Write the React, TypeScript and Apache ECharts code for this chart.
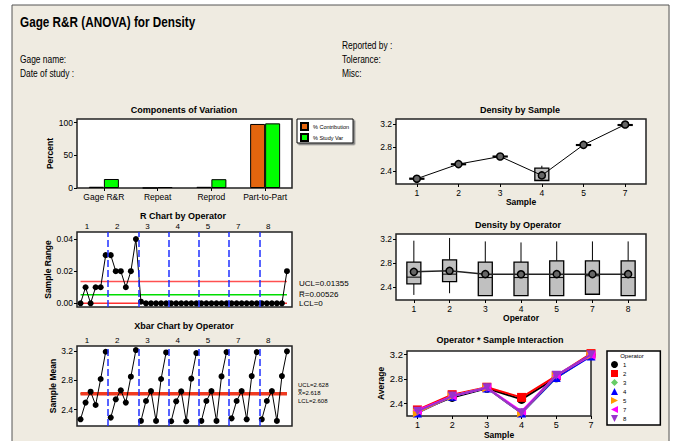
import React, { useEffect, useRef } from 'react';
import * as echarts from 'echarts';

// ---------- data ----------
const components = ['Gage R&R', 'Repeat', 'Reprod', 'Part-to-Part'];
const pctContribution = [1.9, 0.1, 1.8, 98.1];
const pctStudyVar = [13.8, 1.5, 13.5, 99.0];

const operators = ['1', '2', '3', '4', '5', '7', '8'];
const samples = ['1', '2', '3', '4', '5', '7'];

const rangeValues = [
  0, 0.01, 0, 0.01, 0.01, 0.03,
  0.03, 0.02, 0.02, 0.01, 0.02, 0.04,
  0.001, 0, 0, 0, 0, 0,
  0, 0, 0, 0, 0, 0,
  0, 0, 0, 0, 0, 0,
  0, 0, 0, 0, 0, 0,
  0, 0, 0, 0, 0, 0.02,
];
const rUCL = 0.01355;
const rBar = 0.00526;
const rLCL = 0;

const meansOp1 = [2.267, 2.496, 2.646, 2.463, 2.82, 3.194];
const meansOp2 = [2.29, 2.541, 2.664, 2.496, 2.852, 3.217];
const meansOp3 = [2.244, 2.518, 2.655, 2.244, 2.82, 3.185];
const meansOp4 = [2.24, 2.514, 2.65, 2.24, 2.825, 3.176];
const meansOp5 = [2.244, 2.518, 2.655, 2.244, 2.856, 3.19];
const meansOp7 = [2.28, 2.518, 2.655, 2.267, 2.86, 3.19];
const meansOp8 = [2.267, 2.518, 2.655, 2.244, 2.86, 3.2];
const meansByOperator = [meansOp1, meansOp2, meansOp3, meansOp4, meansOp5, meansOp7, meansOp8];
const xUCL = 2.628;
const xBar = 2.618;
const xLCL = 2.608;

// [min, Q1, median, Q3, max]
const sampleBoxes = [
  [2.25, 2.262, 2.27, 2.278, 2.3],
  [2.49, 2.508, 2.515, 2.522, 2.55],
  [2.63, 2.64, 2.647, 2.654, 2.67],
  [2.235, 2.236, 2.245, 2.45, 2.49],
  [2.82, 2.835, 2.842, 2.849, 2.86],
  [3.16, 3.175, 3.182, 3.189, 3.22],
];
const sampleMeans = [2.27, 2.518, 2.647, 2.326, 2.845, 3.19];

const operatorBoxes = [
  [2.272, 2.455, 2.567, 2.817, 3.172],
  [2.3, 2.493, 2.617, 2.855, 3.217],
  [2.255, 2.26, 2.56, 2.817, 3.16],
  [2.255, 2.26, 2.56, 2.817, 3.143],
  [2.255, 2.26, 2.56, 2.838, 3.16],
  [2.278, 2.283, 2.59, 2.838, 3.16],
  [2.255, 2.26, 2.56, 2.838, 3.16],
];
const operatorMeans = [2.655, 2.672, 2.617, 2.615, 2.617, 2.617, 2.617];

// ---------- style ----------
const BEIGE = '#efebe1';
const FONT = '"Liberation Sans", "DejaVu Sans", Arial, sans-serif';
const opColors = ['#000000', '#ff0000', '#66cc66', '#0000ff', '#ff9900', '#ff00ff', '#9933cc'];
const opSymbols = [
  'circle',
  'rect',
  'diamond',
  'triangle',
  'path://M0,0 L10,5 L0,10 Z',
  'path://M10,0 L0,5 L10,10 Z',
  'path://M0,0 L10,0 L5,10 Z',
];

const nPerOp = samples.length;
const N = operators.length * nPerOp;
const separators = operators.slice(1).map((_, i) => ({ xAxis: (i + 1) * nPerOp + 0.5 }));
const opLabelPos = operators.map((_, i) => i * nPerOp + 2.3);

function App() {
  const ref = useRef<HTMLDivElement>(null);
  useEffect(() => {
    const chart = echarts.init(ref.current!, null, { renderer: 'svg' });

    const gridBase = { show: true, backgroundColor: '#fff', borderColor: '#222', borderWidth: 1.5, containLabel: false };
    const grids = [
      { left: 77, top: 119, width: 215, height: 69 },
      { left: 77, top: 232, width: 215, height: 75 },
      { left: 77, top: 346, width: 215, height: 80 },
      { left: 396, top: 119, width: 250, height: 65 },
      { left: 396, top: 234, width: 250, height: 66 },
      { left: 407, top: 351, width: 184, height: 65 },
    ].map((g) => ({ ...gridBase, ...g }));

    const lbl = { color: '#000', fontFamily: FONT, fontSize: 8.5 };
    const nameStyle = { color: '#000', fontFamily: FONT, fontSize: 8.5, fontWeight: 'bold' as const };

    const yAxis = (gridIndex: number, min: number, max: number, ticks: number[], digits: number, name = '', nameGap = 22, fs = 8.5) => ({
      type: 'value', gridIndex, min, max, name, nameLocation: 'middle', nameGap, nameRotate: 90,
      nameTextStyle: nameStyle,
      axisLine: { show: false }, splitLine: { show: false },
      axisTick: { show: true, customValues: ticks, length: 3, lineStyle: { color: '#000' } },
      axisLabel: { ...lbl, fontSize: fs, margin: 4, customValues: ticks, formatter: (v: number) => v.toFixed(digits) },
    });

    const catAxis = (gridIndex: number, data: string[], name = '', fs = 8.5) => ({
      type: 'category', gridIndex, data, name, nameLocation: 'middle', nameGap: 13,
      nameTextStyle: nameStyle,
      axisLine: { show: false }, splitLine: { show: false },
      axisTick: { show: true, alignWithLabel: true, interval: 0, length: 3, lineStyle: { color: '#000' } },
      axisLabel: { ...lbl, fontSize: fs, margin: 4, interval: 0, hideOverlap: false },
    });

    const hiddenValueX = (gridIndex: number) => ({
      type: 'value', gridIndex, min: 0.3, max: N + 1, show: true,
      axisLine: { show: false }, axisTick: { show: false }, splitLine: { show: false }, axisLabel: { show: false },
    });
    const topOpX = (gridIndex: number) => ({
      type: 'value', gridIndex, position: 'top', min: 0.3, max: N + 1,
      axisLine: { show: false }, axisTick: { show: false }, splitLine: { show: false },
      axisLabel: {
        ...lbl, fontSize: 8, margin: 2, customValues: opLabelPos,
        formatter: (v: number) => {
          const i = opLabelPos.findIndex((p) => Math.abs(p - v) < 1e-6);
          return i >= 0 ? operators[i] : '';
        },
      },
    });

    const sampleTicks = [1, 2, 3, 4, 5, 6];

    const xAxes = [
      catAxis(0, components),
      hiddenValueX(1),
      topOpX(1),
      hiddenValueX(2),
      topOpX(2),
      catAxis(3, samples, 'Sample'),
      catAxis(4, operators, 'Operator'),
      {
        type: 'value', gridIndex: 5, min: 0.7, max: 6, name: 'Sample', nameLocation: 'middle', nameGap: 14,
        nameTextStyle: nameStyle,
        axisLine: { show: false }, splitLine: { show: false },
        axisTick: { show: true, customValues: sampleTicks, length: 3, lineStyle: { color: '#000' } },
        axisLabel: { ...lbl, fontSize: 9, margin: 4, customValues: sampleTicks, formatter: (v: number) => samples[Math.round(v) - 1] ?? '' },
      },
    ];

    const yAxes = [
      yAxis(0, 0, 105.7, [0, 50, 100], 0, 'Percent', 20),
      yAxis(1, -0.0023, 0.0444, [0, 0.02, 0.04], 2, 'Sample Range', 25),
      yAxis(2, 2.175, 3.273, [2.4, 2.8, 3.2], 1, 'Sample Mean', 20),
      yAxis(3, 2.18, 3.284, [2.4, 2.8, 3.2], 1),
      yAxis(4, 2.188, 3.283, [2.4, 2.8, 3.2], 1),
      yAxis(5, 2.19, 3.26, [2.4, 2.8, 3.2], 1, 'Average', 22, 9.5),
    ];

    const renderBox = (_p: any, api: any) => {
      const x = api.value(0);
      const pMin = api.coord([x, api.value(1)]);
      const pQ1 = api.coord([x, api.value(2)]);
      const pMed = api.coord([x, api.value(3)]);
      const pQ3 = api.coord([x, api.value(4)]);
      const pMax = api.coord([x, api.value(5)]);
      const cx = pMin[0];
      const hw = 7;
      return {
        type: 'group',
        children: [
          { type: 'line', shape: { x1: cx, y1: pMax[1], x2: cx, y2: pQ3[1] }, style: { stroke: '#000', lineWidth: 1 } },
          { type: 'line', shape: { x1: cx, y1: pQ1[1], x2: cx, y2: pMin[1] }, style: { stroke: '#000', lineWidth: 1 } },
          { type: 'rect', shape: { x: cx - hw, y: pQ3[1], width: hw * 2, height: pQ1[1] - pQ3[1] }, style: { fill: '#c0c0c0', stroke: '#000', lineWidth: 1.3 } },
          { type: 'line', shape: { x1: cx - hw, y1: pMed[1], x2: cx + hw, y2: pMed[1] }, style: { stroke: '#000', lineWidth: 1 } },
        ],
      };
    };

    const limitLine = (name: string, xi: number, yi: number, v: number, color: string, width: number) => ({
      name, type: 'line', xAxisIndex: xi, yAxisIndex: yi, data: [[1, v], [N, v]], symbol: 'none', silent: true,
      lineStyle: { color, width }, z: 2,
    });

    const sepMarkLine = {
      symbol: 'none', silent: true, label: { show: false },
      lineStyle: { color: '#2030ff', width: 1.5, type: [7, 3] },
      data: separators,
    };

    const series: any[] = [
      {
        name: '% Contribution', type: 'bar', xAxisIndex: 0, yAxisIndex: 0, data: pctContribution,
        barWidth: 15, barGap: '0%', itemStyle: { color: '#e3650e', borderColor: '#000', borderWidth: 1 },
      },
      {
        name: '% Study Var', type: 'bar', xAxisIndex: 0, yAxisIndex: 0, data: pctStudyVar,
        barWidth: 15, itemStyle: { color: '#00ff00', borderColor: '#000', borderWidth: 1 },
      },
      limitLine('R UCL', 1, 1, rUCL, '#ff5050', 1.5),
      limitLine('R Bar', 1, 1, rBar, '#00dd00', 1.5),
      limitLine('R LCL', 1, 1, rLCL, '#ff3030', 1.5),
      {
        name: 'Range', type: 'line', xAxisIndex: 1, yAxisIndex: 1,
        data: rangeValues.map((v, i) => [i + 1, v]),
        symbol: 'circle', symbolSize: 6, itemStyle: { color: '#000' }, lineStyle: { color: '#000', width: 1 },
        markLine: sepMarkLine, z: 3,
      },
      limitLine('X Bar', 3, 2, xBar, '#00cc00', 1.5),
      limitLine('X UCL', 3, 2, xUCL, '#f03a20', 2),
      limitLine('X LCL', 3, 2, xLCL, '#f03a20', 2),
      ...meansByOperator.map((arr, oi) => ({
        name: 'Xbar ' + operators[oi], type: 'line', xAxisIndex: 3, yAxisIndex: 2,
        data: arr.map((v, j) => [oi * nPerOp + j + 1, v]),
        symbol: 'circle', symbolSize: 6, itemStyle: { color: '#000' }, lineStyle: { color: '#000', width: 1 },
        markLine: oi === 0 ? sepMarkLine : undefined, z: 3,
      })),
      {
        name: 'Sample boxes', type: 'custom', xAxisIndex: 5, yAxisIndex: 3, renderItem: renderBox,
        data: sampleBoxes.map((b, i) => [i, ...b]), encode: { x: 0, y: [1, 2, 3, 4, 5] }, silent: true,
      },
      {
        name: 'Sample means', type: 'line', xAxisIndex: 5, yAxisIndex: 3, data: sampleMeans,
        symbol: 'circle', symbolSize: 7, itemStyle: { color: '#666', borderColor: '#000', borderWidth: 1.5 },
        lineStyle: { color: '#000', width: 1 }, z: 4,
      },
      {
        name: 'Operator boxes', type: 'custom', xAxisIndex: 6, yAxisIndex: 4, renderItem: renderBox,
        data: operatorBoxes.map((b, i) => [i, ...b]), encode: { x: 0, y: [1, 2, 3, 4, 5] }, silent: true,
      },
      {
        name: 'Operator means', type: 'line', xAxisIndex: 6, yAxisIndex: 4, data: operatorMeans,
        symbol: 'circle', symbolSize: 7, itemStyle: { color: '#666', borderColor: '#000', borderWidth: 1.5 },
        lineStyle: { color: '#222', width: 1.5 }, z: 4,
      },
      ...meansByOperator.map((arr, oi) => ({
        name: operators[oi], type: 'line', xAxisIndex: 7, yAxisIndex: 5,
        data: arr.map((v, j) => [j + 1, v]),
        symbol: opSymbols[oi], symbolSize: 9, itemStyle: { color: opColors[oi] },
        lineStyle: { color: opColors[oi], width: 2 }, z: 3 + oi * 0.1,
      })),
    ];

    const t = (text: string, x: number, y: number, fontSize: number, opts: any = {}) => ({
      type: 'text', x, y, z: 100, scaleX: opts.scaleX ?? 1,
      style: {
        text, fontSize, fontFamily: FONT, fontWeight: opts.bold ? 'bold' : 'normal', fill: '#000',
        textAlign: opts.align ?? 'left', textVerticalAlign: 'middle',
      },
    });

    const graphic = [
      { type: 'rect', shape: { x: 0, y: 0, width: 673, height: 5 }, style: { fill: '#fff' }, z: 1 },
      { type: 'rect', shape: { x: 0, y: 0, width: 12, height: 441 }, style: { fill: '#fff' }, z: 1 },
      { type: 'rect', shape: { x: 669.5, y: 0, width: 4, height: 441 }, style: { fill: '#fff' }, z: 1 },
      { type: 'polyline', shape: { points: [[12, 442], [12, 5], [669, 5], [669, 442]] }, style: { stroke: '#555', lineWidth: 1, fill: null }, z: 2 },
      t('Gage R&R (ANOVA) for Density', 20, 22, 14, { bold: true, scaleX: 0.84 }),
      t('Reported by :', 342, 45, 10.5, { scaleX: 0.8 }),
      t('Gage name:', 20, 59, 10.5, { scaleX: 0.8 }),
      t('Tolerance:', 342, 59, 10.5, { scaleX: 0.8 }),
      t('Date of study :', 20, 73, 10.5, { scaleX: 0.8 }),
      t('Misc:', 342, 73, 10.5, { scaleX: 0.8 }),
      t('Components of Variation', 184, 110, 9, { bold: true, align: 'center' }),
      t('R Chart by Operator', 183, 216, 9, { bold: true, align: 'center' }),
      t('Xbar Chart by Operator', 184, 326, 9, { bold: true, align: 'center' }),
      t('Density by Sample', 520, 110, 9, { bold: true, align: 'center' }),
      t('Density by Operator', 518, 225, 9, { bold: true, align: 'center' }),
      t('Operator * Sample Interaction', 500, 340, 9, { bold: true, align: 'center' }),
      t('UCL=0.01355', 299, 283, 8),
      t('R\u0305=0.00526', 299, 294, 8),
      t('LCL=0', 299, 303, 8),
      t('UCL=2.628', 298, 385, 6),
      t('X\u033F=2.618', 298, 393, 6),
      t('LCL=2.608', 298, 401, 6),
      t('Operator', 632, 356, 6, { align: 'center' }),
    ];

    const option: any = {
      animation: false,
      backgroundColor: BEIGE,
      textStyle: { fontFamily: FONT },
      grid: grids,
      xAxis: xAxes,
      yAxis: yAxes,
      legend: [
        {
          data: ['% Contribution', '% Study Var'], left: 297, top: 119, orient: 'vertical',
          itemWidth: 7, itemHeight: 7, itemGap: 2, itemTextGap: 3, padding: [3, 4, 1, 3],
          textStyle: { fontSize: 5.5, color: '#000', fontFamily: FONT }, icon: 'rect',
          borderColor: '#000', borderWidth: 1, backgroundColor: '#fff', selectedMode: false,
          shadowColor: '#777', shadowOffsetX: 1.5, shadowOffsetY: 1.5,
        },
        {
          data: operators.map((o, i) => ({ name: o, icon: opSymbols[i] })), left: 607, top: 351, orient: 'vertical',
          itemWidth: 7, itemHeight: 7, itemGap: 2, itemTextGap: 3, padding: [10, 34, 3, 4],
          textStyle: { fontSize: 6, color: '#000', fontFamily: FONT },
          borderColor: '#000', borderWidth: 1.5, backgroundColor: '#fff', selectedMode: false,
        },
      ],
      series,
      graphic,
    };

    chart.setOption(option);
    return () => chart.dispose();
  }, []);

  return <div ref={ref} style={{ position: 'absolute', left: 0, top: 0, width: 673, height: 441 }} />;
}

export default App;
